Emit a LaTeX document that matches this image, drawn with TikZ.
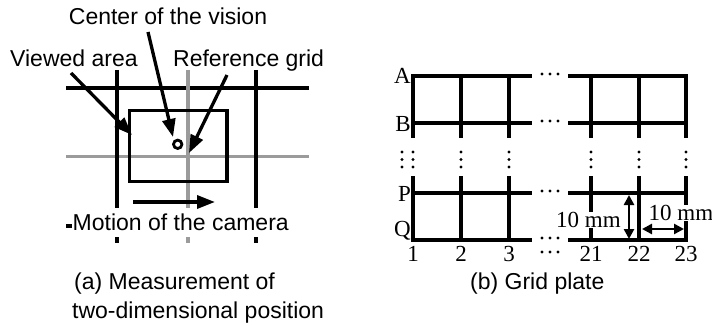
\documentclass[tikz,border=0pt]{standalone}
\usepackage{fontspec}
\setmainfont{Liberation Serif}
\setsansfont{Liberation Sans}
\usetikzlibrary{arrows.meta}
\definecolor{gridgray}{RGB}{155,155,155}
\begin{document}
\begin{tikzpicture}[x=1pt,y=-1pt,
  blk/.style={line width=3.3pt,black},
  gry/.style={line width=3.3pt,gridgray},
  gline/.style={line width=3.6pt,black},
  bigarrow/.style={line width=3.3pt,-{Triangle[length=18pt,width=13pt]}},
  dimarrow/.style={line width=2.8pt,{Triangle[length=10pt,width=10pt]}-{Triangle[length=10pt,width=10pt]}},
  sanslbl/.style={font=\sffamily\fontsize{23}{27}\selectfont,inner sep=0pt},
  seriflbl/.style={font=\fontsize{23}{27}\selectfont,inner sep=0pt},
  dimlbl/.style={seriflbl,fill=white,inner xsep=0.5pt,inner ysep=0pt},
  dot/.style={circle,fill=black,inner sep=0pt,minimum size=3.2pt}]
\useasboundingbox (0,0) rectangle (712,326);
% ---------- (a) ----------
\draw[blk] (66,88) -- (309,88);
\draw[gry] (66,156.5) -- (309,156.5);
\draw[blk] (117,70) -- (117,243);
\draw[gry] (188,70) -- (188,243);
\draw[blk] (256,70) -- (256,243);
\draw[blk] (66,226) -- (73,226);
\draw[blk] (129.5,110.5) rectangle (227,181.5);
\draw[line width=2.8pt] (177.7,144.3) circle (4.2pt);
\node[sanslbl,fill=white,inner xsep=0.5pt,inner ysep=3pt,text height=19pt,text depth=4pt,anchor=base west] (motion) at (72,230) {Motion of the camera};
\coordinate (mvs) at (133,202);
\coordinate (mve) at (215,202);
\draw[bigarrow] (mvs) -- (mve);
\node[sanslbl,anchor=base] (center) at (168,25) {Center of the vision};
\node[sanslbl,anchor=base west] (viewed) at (10,67) {Viewed area};
\node[sanslbl,anchor=base west] (refgrid) at (173,67) {Reference grid};
\coordinate (vs) at (71,73);
\coordinate (ve) at (132,135);
\coordinate (cs) at (148,32);
\coordinate (ce) at (173,137);
\coordinate (rs) at (227,75);
\coordinate (re) at (189,153);
\draw[bigarrow] (vs) -- (ve);
\draw[bigarrow] (cs) -- (ce);
\draw[bigarrow] (rs) -- (re);
\node[sanslbl,anchor=base west] (capa1) at (74,289) {(a) Measurement of};
\node[sanslbl,anchor=base west] (capa2) at (72,318) {two-dimensional position};
% ---------- (b) ----------
\foreach \y in {76,123,193,240}{
  \draw[gline] (411.2,\y) -- (532,\y);
  \draw[gline] (568,\y) -- (687.8,\y);
  \foreach \dx in {-8,0,8} \node[dot] at (550+\dx,\y-2) {};
}
\foreach \x in {413,461,509,591,639,686}{
  \draw[gline] (\x,76) -- (\x,138);
  \draw[gline] (\x,176) -- (\x,240);
}
\foreach \x in {402,413,461,509,591,639,686}{
  \foreach \yy in {152,159.5,167} \node[dot] at (\x,\yy) {};
}
\foreach \dx in {-8,0,8} \node[dot] at (550+\dx,252) {};
\node[seriflbl,anchor=east] (lA) at (411,76) {A};
\node[seriflbl,anchor=east] (lB) at (411,124) {B};
\node[seriflbl,anchor=east] (lP) at (411,194) {P};
\node[seriflbl,anchor=east] (lQ) at (411,231) {Q};
\foreach \x/\t in {413/1,461/2,509/3,591/21,639/22,686/23}
  \node[seriflbl,anchor=base] at (\x,261) {\t};
\coordinate (va) at (629,195);
\coordinate (vb) at (629,239);
\draw[dimarrow] (va) -- (vb);
\node[dimlbl] (d1) at (588.5,220) {10 mm};
\coordinate (ha) at (642,229);
\coordinate (hb) at (684,229);
\draw[dimarrow] (ha) -- (hb);
\node[dimlbl] (d2) at (681,213) {10 mm};
\node[sanslbl,anchor=base west] (capb) at (470,289) {(b) Grid plate};
\end{tikzpicture}
\end{document}
